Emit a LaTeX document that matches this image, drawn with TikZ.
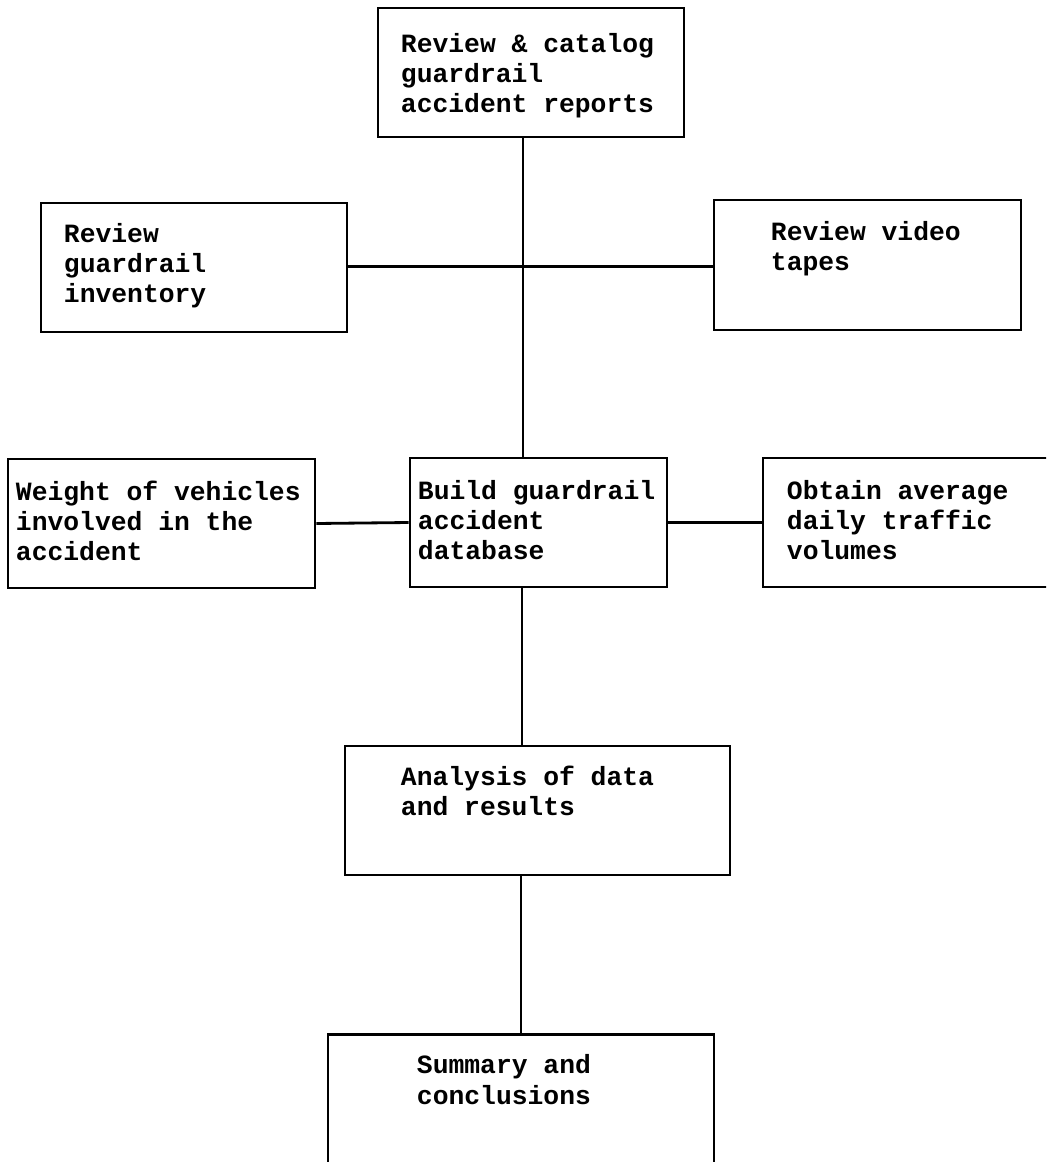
\documentclass[tikz,border=0pt]{standalone}
\usepackage{fontspec}
\setmonofont{Liberation Mono}
\usetikzlibrary{calc}

\begin{document}
\begin{tikzpicture}[x=0.02cm, y=-0.02cm,
    stage/.style={draw, line width=1.6pt, rectangle, inner sep=0pt},
    stagetext/.style={anchor=base west, inner sep=0pt, align=left,
      font=\ttfamily\bfseries\fontsize{15}{17.2}\selectfont},
    link/.style={line width=1.6pt}]
  \useasboundingbox (0,0) rectangle (1046,1162);
  \clip (0,0) rectangle (1046,1162);

  % Boxes
  \node[stage, minimum width=6.12cm, minimum height=2.58cm] (rep) at (531,72.5) {};
  \node[stage, minimum width=6.12cm, minimum height=2.58cm] (inv) at (194,267.5) {};
  \node[stage, minimum width=6.14cm, minimum height=2.60cm] (vid) at (867.5,265) {};
  \node[stage, minimum width=6.14cm, minimum height=2.58cm] (wgt) at (161.5,523.5) {};
  \node[stage, minimum width=5.14cm, minimum height=2.58cm] (db)  at (538.5,522.5) {};
  \node[stage, minimum width=6.14cm, minimum height=2.58cm] (adt) at (916.5,522.5) {};
  \node[stage, minimum width=7.70cm, minimum height=2.58cm] (ana) at (537.5,810.5) {};
  \node[stage, minimum width=7.72cm, minimum height=2.70cm] (sum) at (521,1102) {};

  % Texts (anchored at the baseline of the last line)
  \node[stagetext] (rep-t) at ([shift={(24,106)}]rep.north west) {Review \& catalog\\guardrail\\accident reports};
  \node[stagetext] (inv-t) at ([shift={(24,101)}]inv.north west) {Review\\guardrail\\inventory};
  \node[stagetext] (vid-t) at ([shift={(58,72)}]vid.north west) {Review video\\tapes};
  \node[stagetext] (wgt-t) at ([shift={(9,103)}]wgt.north west) {Weight of vehicles\\involved in the\\accident};
  \node[stagetext] (db-t)  at ([shift={(9,103)}]db.north west) {Build guardrail\\accident\\database};
  \node[stagetext] (adt-t) at ([shift={(25,103)}]adt.north west) {Obtain average\\daily traffic\\volumes};
  \node[stagetext] (ana-t) at ([shift={(57,71)}]ana.north west) {Analysis of data\\and results};
  \node[stagetext] (sum-t) at ([shift={(90,71)}]sum.north west) {Summary and\\conclusions};

  % Connectors
  \coordinate (spine) at (523,0);
  \draw[link] (rep.south -| spine) -- (db.north -| spine);
  \draw[link] ([yshift=0.6pt]inv.east) -- ([yshift=0.6pt]inv.east -| vid.west);
  \draw[link] (wgt.east) -- (db.west);
  \draw[link] (db.east) -- (adt.west);
  \draw[link] ([xshift=-0.6pt]db.south -| spine) -- ([xshift=-0.6pt]ana.north -| spine);
  \draw[link] ([xshift=-1.1pt]ana.south -| spine) -- ([xshift=-1.1pt]sum.north -| spine);
\end{tikzpicture}
\end{document}
